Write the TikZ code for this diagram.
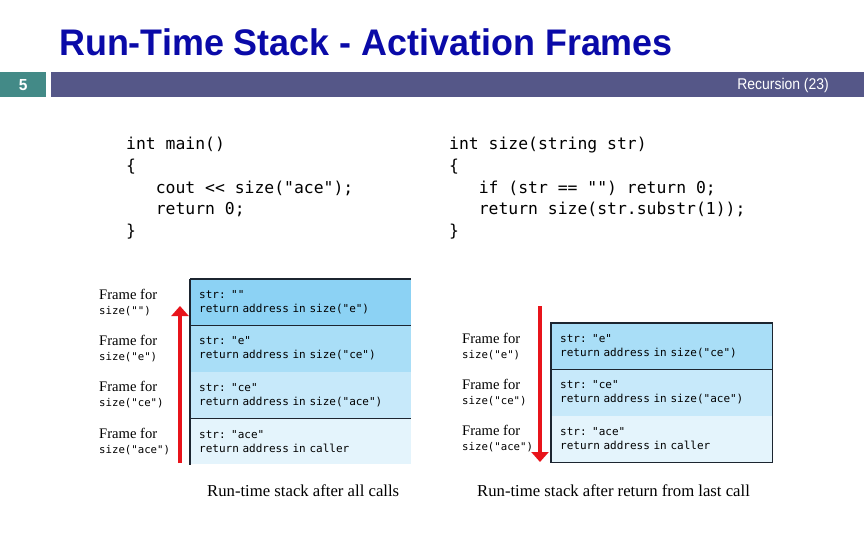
\documentclass[tikz,border=0pt]{standalone}
\usepackage{fontspec}
\setmainfont{Liberation Serif}
\newfontfamily\titlefont[FakeStretch=0.97]{Liberation Sans}
\newfontfamily\footfont[FakeStretch=0.9]{Liberation Sans}
\newfontfamily\codefont{DejaVu Sans Mono}
\newfontfamily\stackfont{DejaVu Sans Mono}
\usetikzlibrary{arrows.meta}
\definecolor{titleblue}{HTML}{0A0AA8}
\definecolor{numteal}{HTML}{438A87}
\definecolor{barpurple}{HTML}{555788}
\definecolor{rowA}{HTML}{8CD2F4}
\definecolor{rowB}{HTML}{A9DEF7}
\definecolor{rowC}{HTML}{C7E9FA}
\definecolor{rowD}{HTML}{E4F4FC}
\definecolor{edge}{HTML}{1C2530}
\definecolor{arrowred}{HTML}{E8141B}
\tikzset{
  code/.style={anchor=north west, inner sep=0pt, align=left,
    font=\codefont\fontsize{16.4}{21.75}\selectfont},
  stackrow/.style={anchor=north west, inner xsep=9pt, inner ysep=0pt,
    minimum height=46pt, text width=203pt, align=left,
    font=\stackfont\fontsize{11}{14}\selectfont},
  framelabel/.style={anchor=west, inner sep=0pt, align=left,
    font=\fontsize{14.6}{15}\selectfont},
  sep/.style={draw=edge, line width=1.2pt},
  redarrow/.style={draw=arrowred, line width=4.5pt,
    -{Triangle[width=17pt,length=10pt]}},
  caption/.style={anchor=base west, inner sep=0pt, font=\fontsize{16.7}{18}\selectfont}
}
\newcommand{\mono}[1]{{\stackfont\fontsize{10.7}{14}\selectfont #1}}
\begin{document}
\begin{tikzpicture}[x=1pt,y=-1pt]
\useasboundingbox (0,0) rectangle (864,540);
\fill[white] (0,0) rectangle (864,540);

% title and header bar
\node[anchor=base west, inner sep=0pt, text=titleblue,
  font=\titlefont\bfseries\fontsize{37}{40}\selectfont] (title) at (59,56)
  {Run-Time Stack - Activation Frames};
\node[anchor=north west, fill=numteal, minimum width=46pt, minimum height=25pt,
  inner sep=0pt, text=white, font=\titlefont\bfseries\fontsize{16}{17}\selectfont]
  (num) at (0,72) {5};
\node[anchor=north west, fill=barpurple, minimum width=813pt, minimum height=25pt,
  inner sep=0pt] (bar) at (51,72) {};
\node[anchor=base east, inner sep=0pt, text=white,
  font=\footfont\fontsize{15.5}{16}\selectfont] (rec) at (829,90) {Recursion (23)};

% code
\node[code] (maincode) at (126,137) {int main()\\
\{\\
\phantom{123}cout <{}< size("ace");\\
\phantom{123}return 0;\\
\}};
\node[code] (sizecode) at (449,137) {int size(string str)\\
\{\\
\phantom{123}if (str == "") return 0;\\
\phantom{123}return size(str.substr(1));\\
\}};

% left stack
\node[stackrow, fill=rowA] (l1) at (190,279) {str: ""\\return address in size("e")};
\node[stackrow, fill=rowB] (l2) at (l1.south west) {str: "e"\\return address in size("ce")};
\node[stackrow, fill=rowC] (l3) at (l2.south west) {str: "ce"\\return address in size("ace")};
\node[stackrow, fill=rowD] (l4) at (l3.south west) {str: "ace"\\return address in caller};
\draw[sep] (l1.north west) -- (l1.north east);
\draw[sep] (l1.south west) -- (l1.south east);
\draw[sep] (l3.south west) -- (l3.south east);
\draw[sep] (l1.north west) -- (l4.south west);

\coordinate (lx) at (99,0);
\node[framelabel] (lf1) at (lx |- l1.center) {Frame for\\\mono{size("")}};
\node[framelabel] (lf2) at (lx |- l2.center) {Frame for\\\mono{size("e")}};
\node[framelabel] (lf3) at (lx |- l3.center) {Frame for\\\mono{size("ce")}};
\node[framelabel] (lf4) at (lx |- l4.center) {Frame for\\\mono{size("ace")}};

\coordinate (la0) at (180,463);
\coordinate (la1) at (180,306);
\draw[redarrow] (la0) -- (la1);

\node[caption] (lcap) at (207,496) {Run-time stack after all calls};

% right stack
\node[stackrow, fill=rowB] (r1) at (551,323) {str: "e"\\return address in size("ce")};
\node[stackrow, fill=rowC] (r2) at (r1.south west) {str: "ce"\\return address in size("ace")};
\node[stackrow, fill=rowD] (r3) at (r2.south west) {str: "ace"\\return address in caller};
\draw[sep] (r1.north west) rectangle (r3.south east);
\draw[sep] (r1.south west) -- (r1.south east);

\coordinate (rx) at (462,0);
\node[framelabel] (rf1) at (rx |- r1.center) {Frame for\\\mono{size("e")}};
\node[framelabel] (rf2) at (rx |- r2.center) {Frame for\\\mono{size("ce")}};
\node[framelabel] (rf3) at (rx |- r3.center) {Frame for\\\mono{size("ace")}};

\coordinate (ra0) at (540,306);
\coordinate (ra1) at (540,462);
\draw[redarrow] (ra0) -- (ra1);

\node[caption] (rcap) at (477,496) {Run-time stack after return from last call};
\end{tikzpicture}
\end{document}
